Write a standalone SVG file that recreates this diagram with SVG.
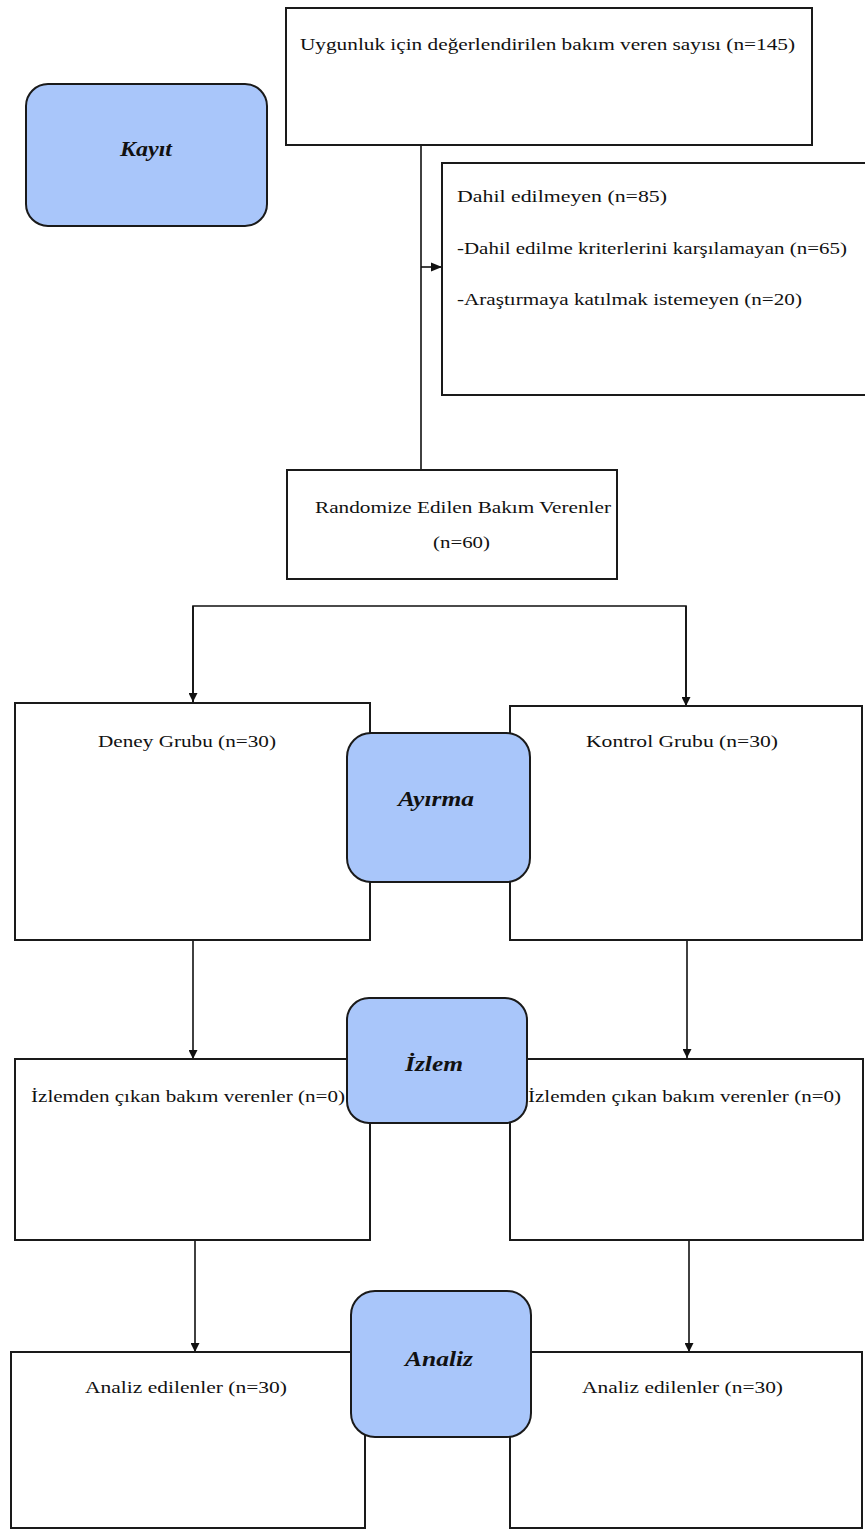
<svg xmlns="http://www.w3.org/2000/svg" width="865" height="1530" viewBox="0 0 865 1530">
<style>
.box{fill:#ffffff;stroke:#1a1a1a;stroke-width:2}
.stage{fill:#a9c6fa;stroke:#1a1a1a;stroke-width:2}
.t{font-family:"Liberation Serif","Times New Roman",serif;font-size:17px;fill:#111}
.s{font-family:"Liberation Serif","Times New Roman",serif;font-size:21px;font-weight:bold;font-style:italic;fill:#111;text-anchor:middle}
.c{fill:none;stroke:#111;stroke-width:1.6}
</style>
<defs>
<marker id="ah" viewBox="0 0 10 10" refX="10" refY="5" markerWidth="9" markerHeight="9" markerUnits="userSpaceOnUse" orient="auto">
<path d="M0,0 L10,5 L0,10 z" fill="#111"/>
</marker>
<marker id="ah2" viewBox="0 0 10 10" refX="10" refY="5" markerWidth="11" markerHeight="11" markerUnits="userSpaceOnUse" orient="auto">
<path d="M0,1 L10,5 L0,9 z" fill="#111"/>
</marker>
</defs>
<rect width="865" height="1530" fill="#ffffff"/>

<g id="connectors">
<path class="c" d="M421,145 V470"/>
<path class="c" d="M421,267 H442" marker-end="url(#ah2)"/>
<path class="c" d="M193,702 V606 H686 V706"/>
<path class="c" d="M193,606 V702" marker-end="url(#ah)"/>
<path class="c" d="M686,606 V706" marker-end="url(#ah)"/>
<path class="c" d="M193,940 V1059" marker-end="url(#ah)"/>
<path class="c" d="M687,940 V1058" marker-end="url(#ah)"/>
<path class="c" d="M195,1240 V1352" marker-end="url(#ah)"/>
<path class="c" d="M689,1240 V1352" marker-end="url(#ah)"/>
</g>

<g id="node-screened">
<rect class="box" x="286" y="8" width="526" height="137"/>
<text class="t" x="300" y="50" textLength="495" lengthAdjust="spacingAndGlyphs">Uygunluk için değerlendirilen bakım veren sayısı (n=145)</text>
</g>

<g id="node-kayit">
<rect class="stage" x="26" y="84" width="241" height="142" rx="22" ry="22"/>
<text class="s" x="146" y="156" textLength="52" lengthAdjust="spacingAndGlyphs">Kayıt</text>
</g>

<g id="node-excluded">
<rect class="box" x="442" y="163" width="430" height="232"/>
<text class="t" x="457" y="202" textLength="210" lengthAdjust="spacingAndGlyphs">Dahil edilmeyen  (n=85)</text>
<text class="t" x="457" y="254" textLength="390" lengthAdjust="spacingAndGlyphs">-Dahil edilme kriterlerini karşılamayan (n=65)</text>
<text class="t" x="457" y="305" textLength="345" lengthAdjust="spacingAndGlyphs">-Araştırmaya katılmak istemeyen (n=20)</text>
</g>

<g id="node-randomized">
<rect class="box" x="287" y="470" width="330" height="109"/>
<text class="t" x="315" y="513" textLength="296" lengthAdjust="spacingAndGlyphs">Randomize Edilen Bakım Verenler</text>
<text class="t" x="433" y="548" textLength="57" lengthAdjust="spacingAndGlyphs">(n=60)</text>
</g>

<g id="node-deney">
<rect class="box" x="15" y="703" width="355" height="237"/>
<text class="t" x="98" y="747" textLength="178" lengthAdjust="spacingAndGlyphs">Deney Grubu (n=30)</text>
</g>

<g id="node-kontrol">
<rect class="box" x="510" y="706" width="352" height="234"/>
<text class="t" x="586" y="747" textLength="192" lengthAdjust="spacingAndGlyphs">Kontrol Grubu (n=30)</text>
</g>

<g id="node-ayirma">
<rect class="stage" x="347" y="733" width="183" height="149" rx="24" ry="24"/>
<text class="s" x="436" y="806" textLength="76" lengthAdjust="spacingAndGlyphs">Ayırma</text>
</g>

<g id="node-izlem-left">
<rect class="box" x="15" y="1059" width="355" height="181"/>
<text class="t" x="31" y="1102" textLength="314" lengthAdjust="spacingAndGlyphs">İzlemden çıkan bakım verenler (n=0)</text>
</g>

<g id="node-izlem-right">
<rect class="box" x="510" y="1059" width="353" height="181"/>
<text class="t" x="528" y="1102" textLength="313" lengthAdjust="spacingAndGlyphs">İzlemden çıkan bakım verenler (n=0)</text>
</g>

<g id="node-izlem">
<rect class="stage" x="347" y="998" width="180" height="125" rx="22" ry="22"/>
<text class="s" x="434" y="1071" textLength="58" lengthAdjust="spacingAndGlyphs">İzlem</text>
</g>

<g id="node-analiz-left">
<rect class="box" x="11" y="1352" width="354" height="176"/>
<text class="t" x="85" y="1393" textLength="202" lengthAdjust="spacingAndGlyphs">Analiz edilenler (n=30)</text>
</g>

<g id="node-analiz-right">
<rect class="box" x="510" y="1352" width="352" height="176"/>
<text class="t" x="582" y="1393" textLength="201" lengthAdjust="spacingAndGlyphs">Analiz edilenler (n=30)</text>
</g>

<g id="node-analiz">
<rect class="stage" x="351" y="1291" width="180" height="146" rx="24" ry="24"/>
<text class="s" x="439" y="1366" textLength="68" lengthAdjust="spacingAndGlyphs">Analiz</text>
</g>
</svg>
